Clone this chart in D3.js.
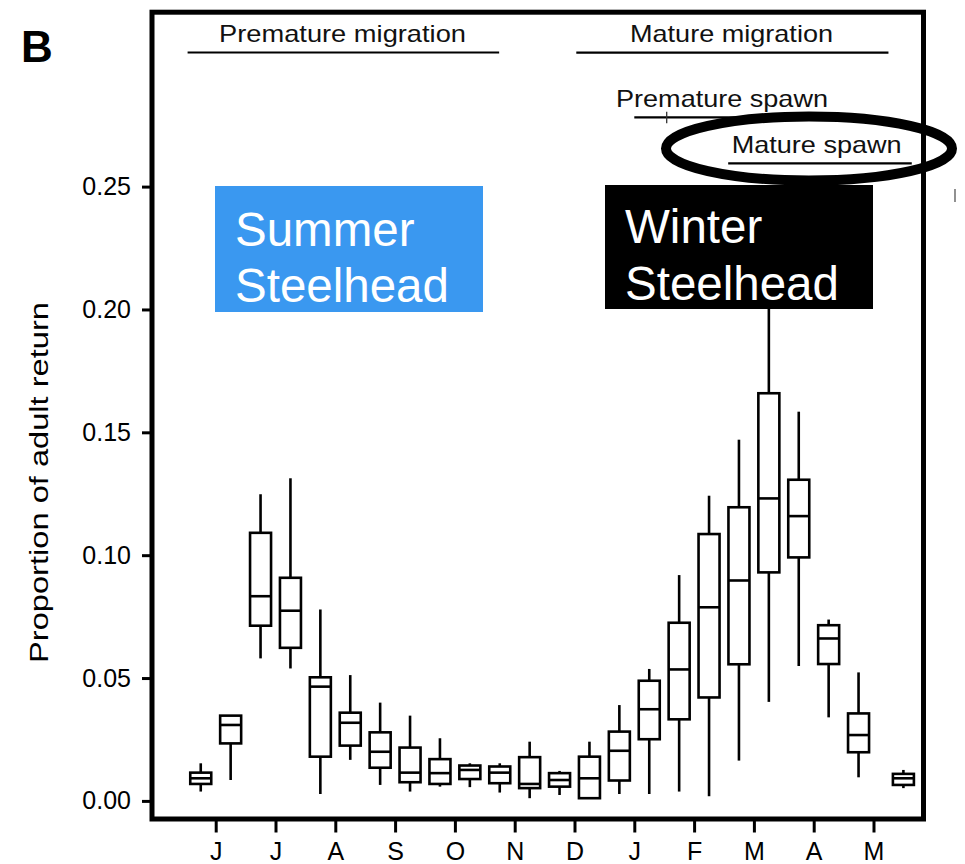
<!DOCTYPE html>
<html><head><meta charset="utf-8">
<script src="https://cdn.jsdelivr.net/npm/d3@7"></script>
<style>
html,body{margin:0;padding:0;background:#fff;}
svg text{font-family:"Liberation Sans",Arial,Helvetica,sans-serif;}
</style></head>
<body><svg id="chart" width="965" height="864"></svg>
<script>
// ---- data ----
const monthLabels = ["J","J","A","S","O","N","D","J","F","M","A","M"];
const yTicks = [0, 0.05, 0.10, 0.15, 0.20, 0.25];
// box position in months after first June tick (half-month bins)
const boxPos   = [-0.25,0.25,0.75,1.25,1.75,2.25,2.75,3.25,3.75,4.25,4.75,5.25,5.75,6.25,6.75,7.25,7.75,8.25,8.75,9.25,9.75,10.25,10.75,11.5];
const whiskLo  = [0.0038,0.0085,0.058,0.0539,0.0028,0.0167,0.0065,0.0038,0.0058,0.0056,0.0034,0.0011,0.0024,0.0011,0.0028,0.0028,0.0038,0.0019,0.0164,0.0403,0.0549,0.034,0.0096,0.0052];
const q1       = [0.0069,0.0234,0.0713,0.0623,0.018,0.0225,0.0135,0.0076,0.0069,0.0089,0.0072,0.0052,0.0058,0.0011,0.0083,0.0251,0.0332,0.0421,0.0556,0.093,0.0991,0.0557,0.0198,0.0065];
const medians  = [0.0092,0.0309,0.0833,0.0774,0.0465,0.0318,0.02,0.0115,0.0113,0.0126,0.0115,0.0069,0.0085,0.0092,0.0204,0.0373,0.0535,0.0788,0.0897,0.1231,0.1159,0.0661,0.0268,0.0092];
const q3       = [0.0115,0.0347,0.1091,0.0908,0.0503,0.0359,0.0279,0.0217,0.017,0.0144,0.014,0.0178,0.0113,0.018,0.0282,0.0489,0.0725,0.1086,0.1195,0.1659,0.1307,0.0715,0.0356,0.011];
const whiskHi  = [0.0153,0.0347,0.1248,0.1313,0.0779,0.0512,0.04,0.0347,0.0255,0.0153,0.0153,0.0241,0.0122,0.0241,0.039,0.0537,0.0919,0.1242,0.147,0.22,0.1584,0.0738,0.0523,0.0126];
// phase annotations (in month units)
const phaseNames = ["Premature migration","Mature migration","Premature spawn","Mature spawn"];
const phaseStart = [-0.47, 6.03, 7.0, 8.57];
const phaseEnd   = [4.74, 11.25, 10.27, 11.64];

// ---- drawing ----
const svg = d3.select("#chart");
const x = d3.scaleLinear().domain([0, 11]).range([215.7, 873.5]);
const y = d3.scaleLinear().domain([0, 0.25]).range([800.9, 186.6]);
const frame = {left:152, right:923.5, top:12.2, bottom:819};

// boxes
const boxes = boxPos.map((p,i)=>({p, lo:whiskLo[i], q1:q1[i], md:medians[i], q3:q3[i], hi:whiskHi[i]}));
const bw = 21;
const g = svg.append("g").attr("stroke","#000").attr("stroke-width",2.6).attr("fill","none");
const bg = g.selectAll("g.box").data(boxes).join("g").attr("class","box");
bg.append("line").attr("x1",d=>x(d.p)).attr("x2",d=>x(d.p)).attr("y1",d=>y(d.hi)).attr("y2",d=>y(d.q3));
bg.append("line").attr("x1",d=>x(d.p)).attr("x2",d=>x(d.p)).attr("y1",d=>y(d.q1)).attr("y2",d=>y(d.lo));
bg.append("rect").attr("x",d=>x(d.p)-bw/2).attr("width",bw)
  .attr("y",d=>y(d.q3)).attr("height",d=>Math.max(1,y(d.q1)-y(d.q3))).attr("fill","#fff");
bg.append("line").attr("x1",d=>x(d.p)-bw/2).attr("x2",d=>x(d.p)+bw/2).attr("y1",d=>y(d.md)).attr("y2",d=>y(d.md));

// frame
svg.append("rect").attr("x",frame.left).attr("y",frame.top)
  .attr("width",frame.right-frame.left).attr("height",frame.bottom-frame.top)
  .attr("fill","none").attr("stroke","#000").attr("stroke-width",5);

// axes
const yAxis = d3.axisLeft(y).tickValues(yTicks).tickFormat(d3.format(".2f")).tickSize(10).tickPadding(11);
const ya = svg.append("g").attr("transform",`translate(${frame.left},0)`).call(yAxis);
ya.select(".domain").remove();
ya.selectAll(".tick line").attr("stroke-width",3);
ya.selectAll(".tick text").attr("font-size",25).attr("fill","#000").style("font-family","'Liberation Sans',Arial,sans-serif");

const xAxis = d3.axisBottom(x).tickValues(d3.range(12)).tickFormat(i=>monthLabels[i]).tickSize(13.5).tickPadding(10);
const xa = svg.append("g").attr("transform",`translate(0,${frame.bottom})`).call(xAxis);
xa.select(".domain").remove();
xa.selectAll(".tick line").attr("stroke-width",3);
xa.selectAll(".tick text").attr("font-size",25).attr("fill","#000").style("font-family","'Liberation Sans',Arial,sans-serif");

// y label
svg.append("text").attr("transform","translate(48,482.5) rotate(-90)")
  .attr("text-anchor","middle").attr("font-size",26)
  .attr("textLength",361).attr("lengthAdjust","spacingAndGlyphs")
  .text("Proportion of adult return");

// panel letter
svg.append("text").attr("x",21).attr("y",62).attr("font-size",44).attr("font-weight","bold").text("B");

// phase annotations
const phaseLineY = [52.5, 52.7, 117.3, 163.3];
const phaseTextX = [219, 630, 616, 731.7];
const phaseTextY = [42.3, 42.3, 106.7, 153.3];
const phaseTextW = [247, 203, 212, 170];
phaseNames.forEach((n,i)=>{
  svg.append("line").attr("x1",x(phaseStart[i])).attr("x2",x(phaseEnd[i]))
    .attr("y1",phaseLineY[i]).attr("y2",phaseLineY[i]).attr("stroke","#000").attr("stroke-width",2.2);
  svg.append("text").attr("x",phaseTextX[i]).attr("y",phaseTextY[i]).attr("font-size",24)
    .attr("textLength",phaseTextW[i]).attr("lengthAdjust","spacingAndGlyphs").attr("fill","#111").text(n);
});
// small tick marks
svg.append("line").attr("x1",666.7).attr("x2",666.7).attr("y1",111.7).attr("y2",123.3).attr("stroke","#333").attr("stroke-width",1.3);
svg.append("line").attr("x1",955).attr("x2",955).attr("y1",189).attr("y2",202).attr("stroke","#555").attr("stroke-width",1.3);

// ellipse highlight
svg.append("ellipse").attr("cx",809).attr("cy",148.5).attr("rx",143).attr("ry",32)
  .attr("fill","none").attr("stroke","#000").attr("stroke-width",10);

// labels boxes
svg.append("rect").attr("x",215).attr("y",186).attr("width",268).attr("height",126).attr("fill","#3a98f0");
svg.append("text").attr("x",235).attr("y",246).attr("font-size",47.5).attr("fill","#fff").text("Summer");
svg.append("text").attr("x",235).attr("y",302).attr("font-size",47.5).attr("fill","#fff").text("Steelhead");
svg.append("rect").attr("x",605).attr("y",185).attr("width",268).attr("height",124).attr("fill","#000");
svg.append("text").attr("x",625).attr("y",243).attr("font-size",47.5).attr("fill","#fff").text("Winter");
svg.append("text").attr("x",625).attr("y",300).attr("font-size",47.5).attr("fill","#fff").text("Steelhead");
</script></body></html>
